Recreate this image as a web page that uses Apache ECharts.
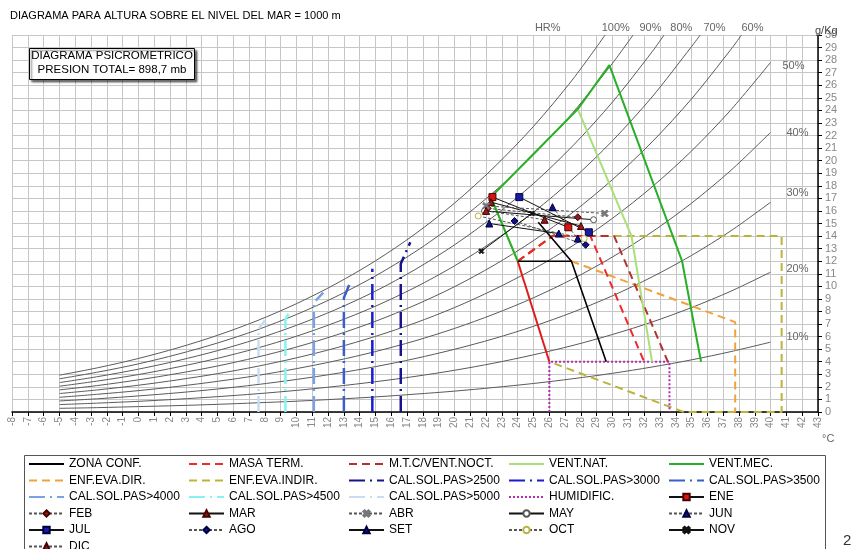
<!DOCTYPE html>
<html>
<head>
<meta charset="utf-8">
<script src="https://cdn.jsdelivr.net/npm/echarts@6/dist/echarts.min.js"></script>
<style>
  html, body { margin: 0; padding: 0; background: #fff; }
  #chart { width: 854px; height: 549px; }
</style>
</head>
<body>
<div id="chart"></div>
<script>
// ---------- data ----------
// dry-bulb temperatures (°C) where the relative-humidity curves are sampled
const rhTemps = [-5, -2.5, 0, 2.5, 5, 7.5, 10, 12.5, 15, 17.5, 20, 22.5, 25, 27.5, 30, 32.5, 35, 37.5, 40];
// humidity ratio (g/kg) of each relative-humidity curve at those temperatures
const rh10  = [0.29,0.35,0.43,0.51,0.61,0.73,0.86,1.02,1.20,1.42,1.66,1.95,2.27,2.65,3.08,3.58,4.15,4.81,5.56];
const rh20  = [0.59,0.71,0.85,1.02,1.22,1.45,1.72,2.04,2.41,2.83,3.32,3.89,4.55,5.30,6.17,7.16,8.31,9.62,11.13];
const rh30  = [0.88,1.06,1.28,1.53,1.83,2.18,2.59,3.06,3.61,4.25,4.99,5.84,6.82,7.95,9.25,10.75,12.46,14.43,16.69];
const rh40  = [1.17,1.42,1.70,2.04,2.44,2.90,3.45,4.08,4.81,5.66,6.65,7.79,9.09,10.60,12.34,14.33,16.62,19.24,22.25];
const rh50  = [1.47,1.77,2.13,2.56,3.05,3.63,4.31,5.10,6.02,7.08,8.31,9.74,11.37,13.25,15.42,17.91,20.77,24.06,27.82];
const rh60  = [1.76,2.12,2.56,3.07,3.66,4.36,5.17,6.12,7.22,8.50,9.97,11.68,13.64,15.90,18.50,21.49,24.92,28.87];
const rh70  = [2.05,2.48,2.98,3.58,4.27,5.08,6.03,7.14,8.42,9.91,11.63,13.63,15.91,18.55,21.59,25.07,29.08];
const rh80  = [2.34,2.83,3.41,4.09,4.88,5.81,6.90,8.16,9.62,11.33,13.30,15.58,18.18,21.20,24.67,28.66];
const rh90  = [2.64,3.19,3.83,4.60,5.49,6.53,7.76,9.18,10.83,12.74,14.96,17.52,20.46,23.85,27.76];
const rh100 = [2.93,3.54,4.26,5.11,6.10,7.26,8.62,10.20,12.03,14.16,16.62,19.47,22.73,26.50];
// point where the steeper curves leave the top of the chart (°C, g/kg)
const rh60Top  = [38.16, 30];
const rh70Top  = [35.55, 30];
const rh80Top  = [33.26, 30];
const rh90Top  = [31.30, 30];
const rh100Top = [29.53, 30];

// strategy zones as [°C, g/kg] vertices
const zonaConf     = [[25.3, 15.1], [27.4, 12], [24, 12], [27.4, 12], [29.6, 4]];
const zonaConfEdge = [[24, 12], [26, 4]];
const masaTerm     = [[24, 12], [26.2, 14], [28.6, 14], [32, 4]];
const mtcVentNoct  = [[24, 12], [26.2, 14], [30.1, 14], [33.5, 4]];
const ventNat      = [[24, 12], [22.3, 17.1], [27.8, 24.1], [31.2, 14], [32.5, 4]];
const ventMec      = [[24, 12], [22.3, 17.1], [27.8, 24.1], [29.8, 27.6], [34.4, 12], [35.6, 4]];
const enfEvaDir    = [[27.4, 12], [37.76, 7.15], [37.76, 0]];
const enfEvaIndir  = [[24, 12], [26.2, 14], [40.7, 14], [40.7, 0], [34.5, 0], [26, 4]];
const calSol2500   = [[16.6, 0], [16.6, 11.8], [17.2, 13.5]];
const calSol3000   = [[14.8, 0], [14.8, 11.4]];
const calSol3500   = [[13.0, 0], [13.0, 9.1], [13.4, 10.3]];
const calSol4000   = [[11.1, 0], [11.1, 8.7], [11.7, 9.5]];
const calSol4500   = [[9.3, 0], [9.3, 7.4], [9.5, 7.8]];
const calSol5000   = [[7.6, 0], [7.6, 6.6], [8.0, 7.3]];
const humidific    = [[26, 0], [26, 4], [33.6, 4], [33.6, 0]];

// monthly climate lines: [°C, g/kg] at minimum and maximum temperature
const ene = [[22.4, 17.1], [27.2, 14.7]];
const feb = [[22.1, 16.2], [27.8, 15.5]];
const mar = [[22.3, 16.7], [28.0, 14.8]];
const abr = [[22.0, 16.4], [29.5, 15.8]];
const may = [[21.9, 16.0], [28.8, 15.3]];
const jun = [[26.2, 16.3], [27.8, 13.8]];
const jul = [[24.1, 17.1], [28.5, 14.3]];
const ago = [[23.8, 15.2], [28.3, 13.3]];
const set = [[22.2, 15.0], [26.6, 14.2]];
const oct = [[21.5, 15.6], [28.2, 13.8]];
const nov = [[21.7, 12.8], [24.9, 15.8]];
const dic = [[22.0, 16.0], [25.7, 15.3]];

// relative-humidity label texts and their anchor in chart units
const rhLabelText = ['HR%', '100%', '90%', '80%', '70%', '60%', '50%', '40%', '30%', '20%', '10%'];
const rhLabelAt = [[25.9, 30.55], [30.2, 30.55], [32.4, 30.55], [34.35, 30.55], [36.45, 30.55], [38.85, 30.55],
                   [41.45, 27.5], [41.7, 22.2], [41.7, 17.4], [41.7, 11.4], [41.7, 5.95]];

// ---------- helpers ----------
const FONT = '"Liberation Sans", Arial, Helvetica, sans-serif';
const chart = echarts.init(document.getElementById('chart'));

function curvePoints(vals, top) {
  const pts = vals.map((w, i) => [rhTemps[i], w]);
  if (top) pts.push(top);
  return pts;
}

const rhCurves = [
  curvePoints(rh10), curvePoints(rh20), curvePoints(rh30), curvePoints(rh40), curvePoints(rh50),
  curvePoints(rh60, rh60Top), curvePoints(rh70, rh70Top), curvePoints(rh80, rh80Top),
  curvePoints(rh90, rh90Top), curvePoints(rh100, rh100Top)
];

const series = [];
rhCurves.forEach((pts, i) => {
  series.push({
    type: 'line', name: 'hr' + (i + 1) * 10, data: pts, smooth: 0.3,
    symbol: 'none', silent: true, z: 2,
    lineStyle: { color: '#5a5a5a', width: 1 }
  });
});

// zone outlines: plain lines, no symbol (the symbol style is made transparent so the legend shows only the line)
function zone(name, data, color, type, width, z) {
  series.push({
    type: 'line', name, data, symbol: 'none', silent: true, z: z || 4,
    lineStyle: { color, type: type || 'solid', width: width || 2 },
    itemStyle: { color, opacity: 0 }
  });
}

const dashDot = [16, 5, 2, 5];
zone('HUMIDIFIC.', humidific, '#b52ab5', [2, 2], 2, 5);
zone('ENF.EVA.INDIR.', enfEvaIndir, '#bdb33a', [8, 5], 2, 4);
zone('ENF.EVA.DIR.', enfEvaDir, '#f2a23c', [8, 5], 2, 4);
zone('M.T.C/VENT.NOCT.', mtcVentNoct, '#b53030', [8, 5], 2, 5);
zone('MASA TERM.', masaTerm, '#ee2a2a', [8, 5], 2, 5);
zone('VENT.NAT.', ventNat, '#a9e07a', 'solid', 2, 5);
zone('VENT.MEC.', ventMec, '#27b027', 'solid', 2, 6);
zone('borde', zonaConfEdge, '#e01b1b', 'solid', 2, 6);
zone('ZONA CONF.', zonaConf, '#000000', 'solid', 1.6, 6);
zone('CAL.SOL.PAS>5000', calSol5000, '#c8dcf4', dashDot, 2.5, 4);
zone('CAL.SOL.PAS>4500', calSol4500, '#86f2f2', dashDot, 2.5, 4);
zone('CAL.SOL.PAS>4000', calSol4000, '#7aa2e2', dashDot, 2.5, 4);
zone('CAL.SOL.PAS>3500', calSol3500, '#3c5ec9', dashDot, 2.5, 4);
zone('CAL.SOL.PAS>3000', calSol3000, '#1b1bd2', dashDot, 2.5, 4);
zone('CAL.SOL.PAS>2500', calSol2500, '#14148f', dashDot, 2.5, 4);

const crossPath = 'path://M2,0L5,3L8,0L10,2L7,5L10,8L8,10L5,7L2,10L0,8L3,5L0,2Z';
function month(name, data, dashed, symbol, fill, border, size) {
  series.push({
    type: 'line', name, data, symbol, symbolSize: size || 7, showSymbol: true, z: 8,
    silent: true,
    lineStyle: dashed ? { color: '#555', width: 1, type: [3, 2] } : { color: '#111', width: 1 },
    itemStyle: { color: fill, borderColor: border, borderWidth: 1 }
  });
}
month('ENE', ene, false, 'rect', '#d81414', '#4a0000', 7);
month('FEB', feb, true, 'diamond', '#8e1c1c', '#4a0000', 7);
month('MAR', mar, false, 'triangle', '#8e1c1c', '#4a0000', 7);
month('ABR', abr, true, crossPath, '#777', '#777', 7);
month('MAY', may, false, 'circle', '#fff', '#555', 6);
month('JUN', jun, true, 'triangle', '#10108a', '#000040', 7);
month('JUL', jul, false, 'rect', '#1a1aa8', '#000040', 7);
month('AGO', ago, true, 'diamond', '#10108a', '#000040', 7);
month('SET', set, false, 'triangle', '#10108a', '#000040', 7);
month('OCT', oct, true, 'circle', '#fff', '#b9b444', 6);
month('NOV', nov, false, crossPath, '#111', '#111', 5);
month('DIC', dic, true, 'triangle', '#8e1c1c', '#4a0000', 7);

// ---------- legend in five columns (sixth row as its own block) ----------
const legendCols = [
  ['ZONA CONF.', 'ENF.EVA.DIR.', 'CAL.SOL.PAS>4000', 'FEB', 'JUL'],
  ['MASA TERM.', 'ENF.EVA.INDIR.', 'CAL.SOL.PAS>4500', 'MAR', 'AGO'],
  ['M.T.C/VENT.NOCT.', 'CAL.SOL.PAS>2500', 'CAL.SOL.PAS>5000', 'ABR', 'SET'],
  ['VENT.NAT.', 'CAL.SOL.PAS>3000', 'HUMIDIFIC.', 'MAY', 'OCT'],
  ['VENT.MEC.', 'CAL.SOL.PAS>3500', 'ENE', 'JUN', 'NOV'],
  ['DIC']
];
const legendTextX = [68, 228, 388, 548, 708, 68];
const legendTop = [458, 458, 458, 458, 458, 540.5];
const legends = legendCols.map((names, i) => ({
  data: names, orient: 'vertical', left: legendTextX[i] - 5 - 35, top: legendTop[i],
  itemWidth: 35, itemHeight: 8, itemGap: 4.5, padding: 0, selectedMode: false,
  textStyle: { fontSize: 12, color: '#000', fontFamily: FONT, lineHeight: 12 }
}));

const option = {
  animation: false,
  backgroundColor: '#fff',
  grid: { left: 12, right: 36, top: 35, bottom: 137 },
  xAxis: {
    type: 'value', min: -8, max: 43, interval: 1,
    axisLine: { onZero: false, lineStyle: { color: '#000', width: 1.5 } },
    axisTick: { show: true, length: 4, lineStyle: { color: '#000' } },
    axisLabel: { rotate: 90, fontSize: 10, color: '#888', margin: 5, fontFamily: FONT },
    splitLine: { show: true, lineStyle: { color: '#c6c6c6', width: 1 } }
  },
  yAxis: {
    type: 'value', position: 'right', min: 0, max: 30, interval: 1,
    axisLine: { show: true, onZero: false, lineStyle: { color: '#000', width: 1.5 } },
    axisTick: { show: true, length: 4, lineStyle: { color: '#000' } },
    axisLabel: { fontSize: 11, color: '#888', margin: 7, fontFamily: FONT },
    splitLine: { show: true, lineStyle: { color: '#c6c6c6', width: 1 } }
  },
  legend: legends,
  series
};
chart.setOption(option);

// ---------- texts ----------
const graphics = [
  { type: 'text', x: 10, y: 16, z: 30,
    style: { text: 'DIAGRAMA PARA ALTURA SOBRE EL NIVEL DEL MAR = 1000 m', fill: '#000',
             font: '11px ' + FONT, verticalAlign: 'middle' } },
  { type: 'rect', z: 30, shape: { x: 29.5, y: 48.5, width: 165, height: 31 },
    style: { fill: '#fff', stroke: '#000', lineWidth: 1, shadowColor: 'rgba(0,0,0,0.55)',
             shadowOffsetX: 2, shadowOffsetY: 2, shadowBlur: 2 } },
  { type: 'text', x: 112, y: 56, z: 31,
    style: { text: 'DIAGRAMA PSICROMETRICO', fill: '#000', font: '11.5px ' + FONT,
             align: 'center', verticalAlign: 'middle' } },
  { type: 'text', x: 112, y: 70, z: 31,
    style: { text: 'PRESION TOTAL= 898,7 mb', fill: '#000', font: '11.5px ' + FONT,
             align: 'center', verticalAlign: 'middle' } },
  { type: 'text', x: 815, y: 31, z: 30,
    style: { text: 'g/Kg', fill: '#444', font: '11px ' + FONT, verticalAlign: 'middle' } },
  { type: 'text', x: 822, y: 439, z: 30,
    style: { text: '°C', fill: '#666', font: '11px ' + FONT, verticalAlign: 'middle' } },
  { type: 'text', x: 843, y: 541, z: 30,
    style: { text: '2', fill: '#333', font: '15px ' + FONT, verticalAlign: 'middle' } },
  { type: 'rect', z: 1, silent: true, shape: { x: 24.5, y: 455.5, width: 801, height: 100 },
    style: { fill: 'none', stroke: '#555', lineWidth: 1 } }
];
rhLabelText.forEach((txt, i) => {
  const p = chart.convertToPixel({ xAxisIndex: 0, yAxisIndex: 0 }, rhLabelAt[i]);
  graphics.push({ type: 'text', x: p[0], y: p[1], z: 30,
    style: { text: txt, fill: '#666', font: '11px ' + FONT, align: 'center', verticalAlign: 'middle' } });
});
chart.setOption({ graphic: graphics });
</script>
</body>
</html>
